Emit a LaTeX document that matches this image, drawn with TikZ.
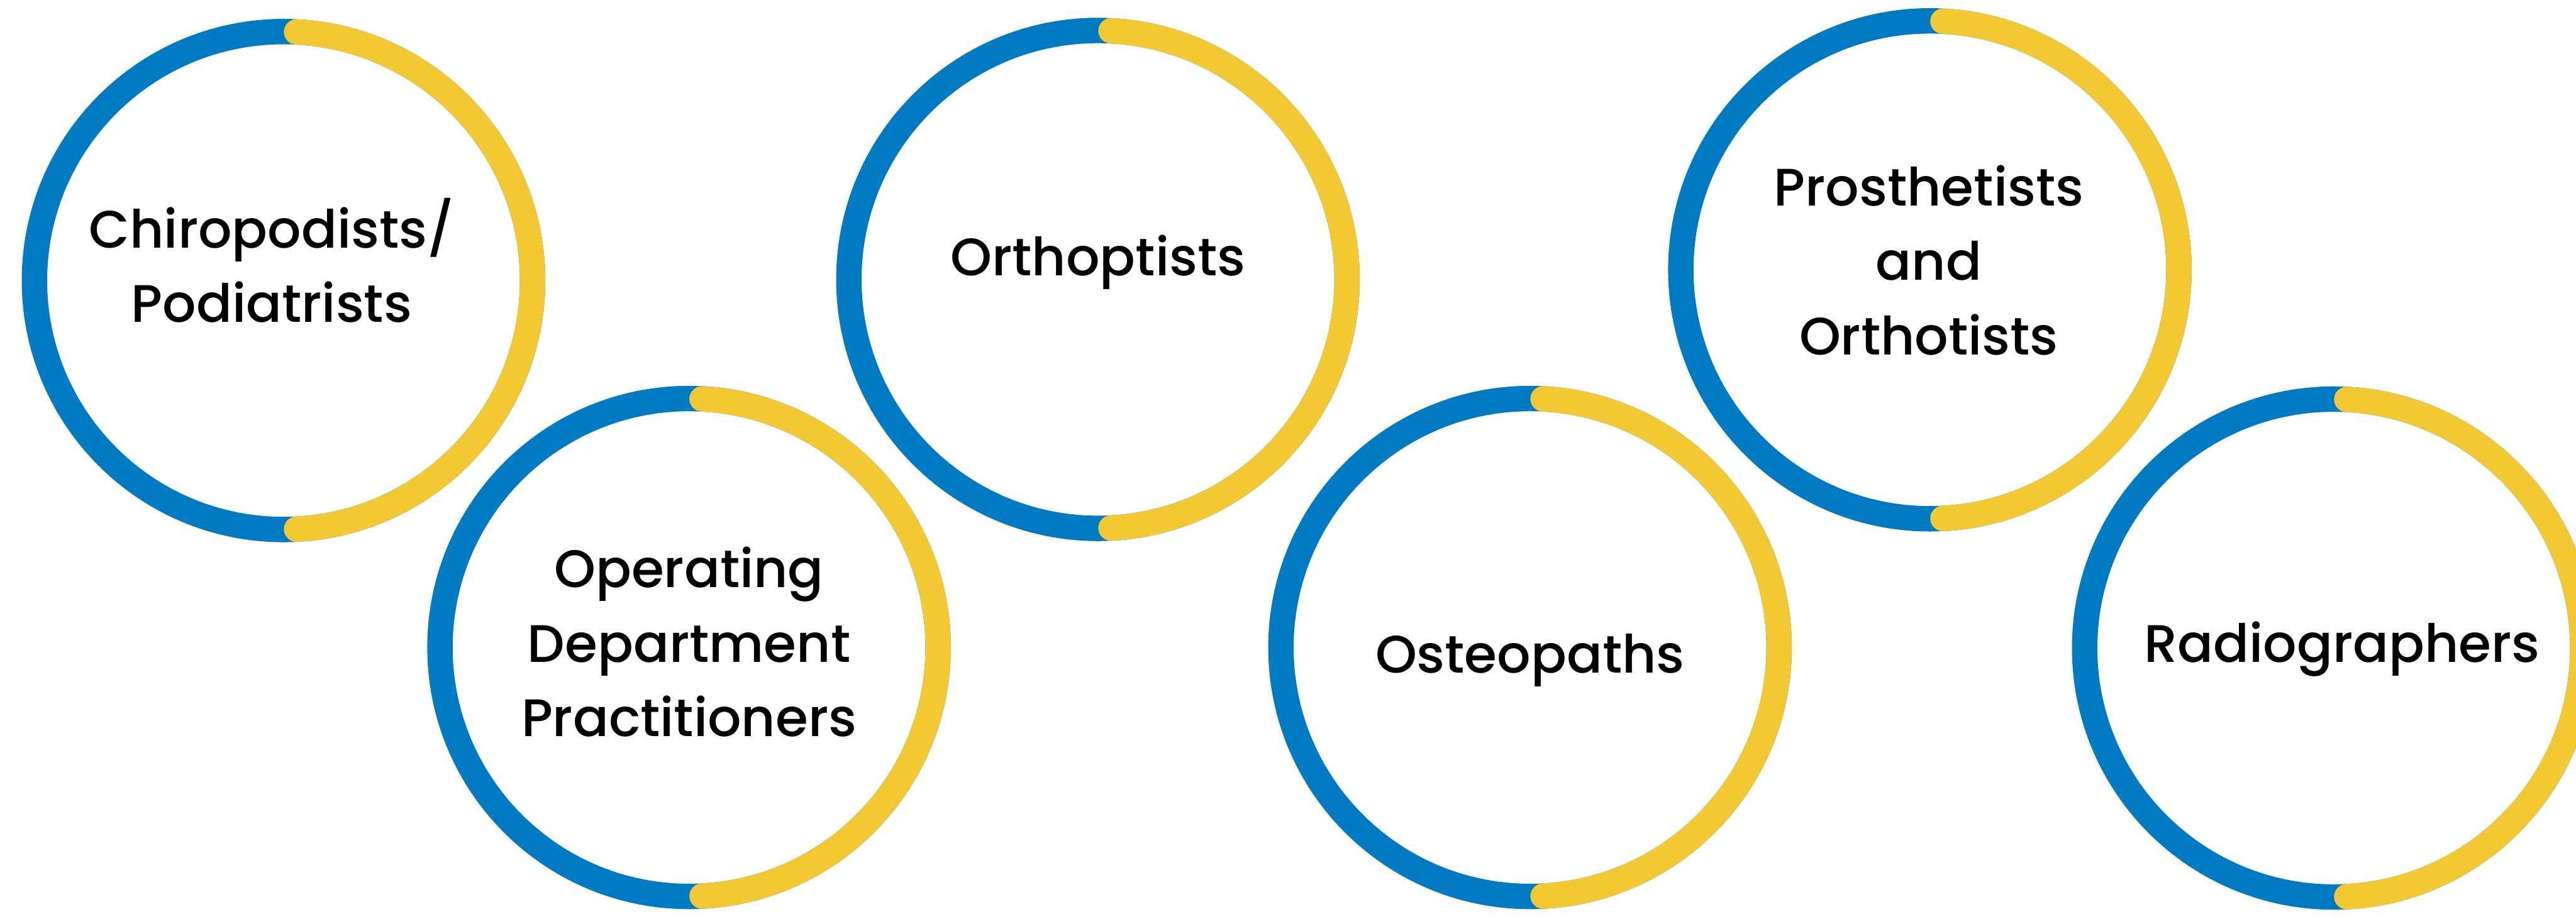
\documentclass[tikz,border=0pt]{standalone}
\usepackage{fontspec}
\setmainfont{Poppins}[UprightFont=* Medium]

\definecolor{ringblue}{RGB}{0,122,194}
\definecolor{ringyellow}{RGB}{242,200,51}

\begin{document}
\begin{tikzpicture}[
  ringtext/.style={align=center, font=\fontsize{26.6}{37.5}\selectfont},
  ringline/.style={line width=0.45cm}
]
  \clip (0,0) rectangle (45.61,16.27);
  \useasboundingbox (0,0) rectangle (45.61,16.27);

  % Rings: blue full circle, yellow right half on top
  \foreach \n/\x/\y in {chiro/5.02/11.30, odp/12.20/4.80, orth/19.44/11.32,
                        osteo/27.09/4.80, pros/34.17/11.49, radio/41.32/4.79} {
    \coordinate (\n) at (\x,\y);
    \draw[ringline, ringblue] (\n) circle (4.41);
    \draw[ringline, ringyellow, line cap=round] (\n) ++(87:4.41)
      arc[start angle=87, end angle=-87, radius=4.41];
  }

  % Labels
  \node[ringtext] (chirotext) at ([shift={(-0.21,0.355)}]chiro) {Chiropodists/\\Podiatrists};
  \node[ringtext] (odptext) at ([shift={(0,0.1)}]odp) {Operating\\Department\\Practitioners};
  \node[ringtext] (orthtext) at ([shift={(0,0.31)}]orth) {Orthoptists};
  \node[ringtext] (osteotext) at ([shift={(0,-0.23)}]osteo) {Osteopaths};
  \node[ringtext] (prostext) at ([shift={(-0.02,0.17)}]pros) {Prosthetists\\and\\Orthotists};
  \node[ringtext] (radiotext) at ([shift={(0.15,-0.02)}]radio) {Radiographers};
\end{tikzpicture}
\end{document}
